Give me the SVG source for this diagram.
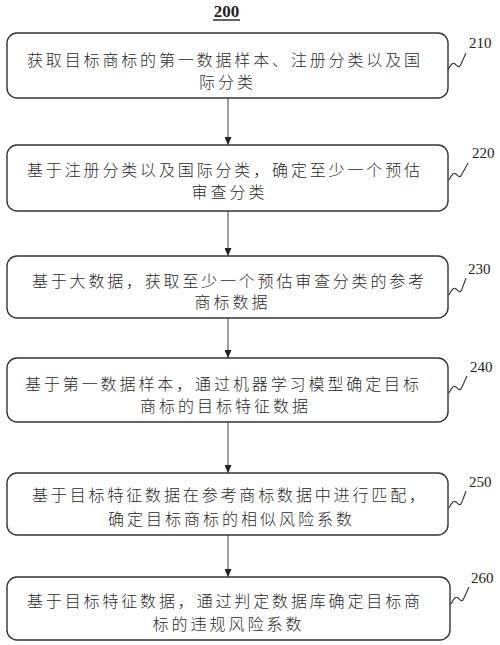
<svg xmlns="http://www.w3.org/2000/svg" width="500" height="645" viewBox="0 0 500 645">
<defs>
<marker id="ah" viewBox="0 0 8 7" refX="8" refY="3.5" markerWidth="8" markerHeight="7" orient="auto" markerUnits="userSpaceOnUse">
<path d="M0,0 L8,3.5 L0,7 Z" fill="#222"/>
</marker>
<style>
.box{fill:#fff;stroke:#333;stroke-width:1.4}
.t{font-family:"Liberation Serif","Noto Sans CJK SC",serif;font-size:16px;font-weight:300;fill:#2a2a2a;letter-spacing:3px}
.lbl{font-family:"Liberation Serif",serif;font-size:15px;fill:#222}
.sq{fill:none;stroke:#333;stroke-width:1.1}
.conn{stroke:#555;stroke-width:1.1;fill:none}
</style>
</defs>
<rect width="500" height="645" fill="#fff"/>
<g id="title">
<text x="226.5" y="17" text-anchor="middle" font-family="Liberation Serif,serif" font-size="17" font-weight="bold" fill="#222">200</text>
<line x1="213" y1="20" x2="240" y2="20" stroke="#222" stroke-width="1.4"/>
</g>
<g id="connectors">
<line class="conn" x1="228" y1="98" x2="228" y2="145" marker-end="url(#ah)"/>
<line class="conn" x1="228" y1="211" x2="228" y2="256" marker-end="url(#ah)"/>
<line class="conn" x1="228" y1="318" x2="228" y2="358" marker-end="url(#ah)"/>
<line class="conn" x1="228" y1="422" x2="228" y2="473" marker-end="url(#ah)"/>
<line class="conn" x1="228" y1="535" x2="228" y2="577" marker-end="url(#ah)"/>
</g>
<g id="n210">
<rect class="box" x="7" y="33" width="441" height="65" rx="10"/>
<text class="t" x="27" y="66" textLength="396" lengthAdjust="spacing">获取目标商标的第一数据样本、注册分类以及国</text>
<text class="t" x="199" y="88">际分类</text>
<path class="sq" d="M448,70 C451,64 453,62 455,64 S459,69 461,64 L466,53"/>
<text class="lbl" x="469" y="48">210</text>
</g>
<g id="n220">
<rect class="box" x="7" y="145" width="441" height="66" rx="10"/>
<text class="t" x="27" y="175.5" textLength="396" lengthAdjust="spacing">基于注册分类以及国际分类，确定至少一个预估</text>
<text class="t" x="191.5" y="198">审查分类</text>
<path class="sq" d="M449,180 C452,174 454,172 456,174 S460,179 462,174 L468,163"/>
<text class="lbl" x="472" y="158">220</text>
</g>
<g id="n230">
<rect class="box" x="7" y="256" width="441" height="62" rx="10"/>
<text class="t" x="32" y="287" textLength="395" lengthAdjust="spacing">基于大数据，获取至少一个预估审查分类的参考</text>
<text class="t" x="194.5" y="308">商标数据</text>
<path class="sq" d="M449,295 C452,289 454,287 456,289 S460,294 462,289 L466,278"/>
<text class="lbl" x="468" y="274">230</text>
</g>
<g id="n240">
<rect class="box" x="7" y="358" width="441" height="64" rx="10"/>
<text class="t" x="25" y="390" textLength="397" lengthAdjust="spacing">基于第一数据样本，通过机器学习模型确定目标</text>
<text class="t" x="140" y="412">商标的目标特征数据</text>
<path class="sq" d="M449,393 C452,387 454,385 456,387 S460,392 462,387 L467,376"/>
<text class="lbl" x="470" y="372">240</text>
</g>
<g id="n250">
<rect class="box" x="7" y="473" width="441" height="62" rx="10"/>
<text class="t" x="32" y="501" textLength="396" lengthAdjust="spacing">基于目标特征数据在参考商标数据中进行匹配，</text>
<text class="t" x="108" y="525">确定目标商标的相似风险系数</text>
<path class="sq" d="M449,508 C452,502 454,500 456,502 S460,507 462,502 L466,491"/>
<text class="lbl" x="469" y="487">250</text>
</g>
<g id="n260">
<rect class="box" x="7" y="577" width="443" height="63" rx="10"/>
<text class="t" x="27" y="607" textLength="396" lengthAdjust="spacing">基于目标特征数据，通过判定数据库确定目标商</text>
<text class="t" x="152.5" y="630">标的违规风险系数</text>
<path class="sq" d="M451,604 C454,598 456,596 458,598 S462,603 464,598 L469,587"/>
<text class="lbl" x="471" y="583">260</text>
</g>
</svg>
